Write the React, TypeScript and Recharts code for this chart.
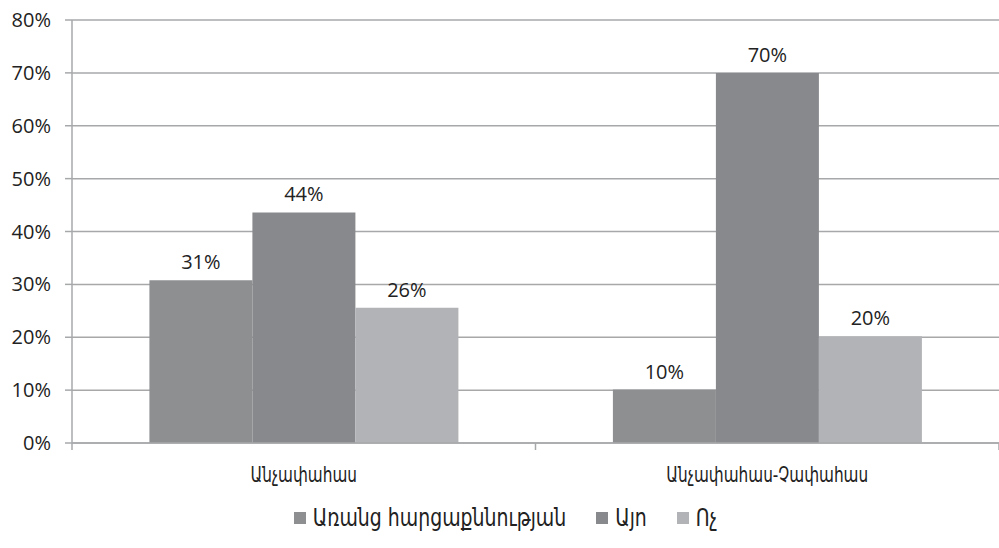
import React from "react";
import { BarChart, Bar, XAxis, YAxis, CartesianGrid, Legend, LabelList } from "recharts";

const categories = ["Անչափահաս", "Անչափահաս-Չափահաս"];
const seriesNames = ["Առանց հարցաքննության", "Այո", "Ոչ"];
const noQuestioning = [30.8, 10.1];
const yes = [43.6, 70];
const no = [25.6, 20.2];
const yTicks = [0, 10, 20, 30, 40, 50, 60, 70, 80];
const colors = ["#8e8f91", "#88898c", "#b2b3b6"];
const keys = ["s0", "s1", "s2"];

const data = categories.map((c, i) => ({
  name: c,
  s0: noQuestioning[i],
  s1: yes[i],
  s2: no[i],
}));

const GRID = "#a7a8aa";
const ARM_FONT = "'DejaVu Sans Condensed', 'DejaVu Sans', sans-serif";

const XTick = (props: any) => {
  const { x, y, payload, index } = props;
  const band = 927 / 2;
  return (
    <g>
      <line x1={x + band / 2} x2={x + band / 2} y1={y - 8} y2={y - 1} stroke={GRID} strokeWidth={1.5} />
      {index === 0 && (
        <line x1={x - band / 2} x2={x - band / 2} y1={y - 8} y2={y - 1} stroke={GRID} strokeWidth={1.5} />
      )}
      <text
        x={0}
        y={0}
        transform={`translate(${x}, ${y + 31}) scale(1, 1.2)`}
        textAnchor="middle"
        fill="#222"
        fontFamily={ARM_FONT}
        fontSize={17}
      >
        {payload.value}
      </text>
    </g>
  );
};

const LegendContent = () => (
  <div style={{ display: "flex", justifyContent: "center", alignItems: "center", fontFamily: ARM_FONT, fontSize: 21, color: "#222", marginLeft: 12 }}>
    {seriesNames.map((n, i) => (
      <div key={n} style={{ display: "flex", alignItems: "center", marginLeft: i === 0 ? 0 : 30 }}>
        <span style={{ display: "inline-block", width: 12, height: 12, background: colors[i], marginRight: 7 }} />
        <span style={{ display: "inline-block", transform: "scaleY(1.15)" }}>{n}</span>
      </div>
    ))}
  </div>
);

export default function App() {
  return (
    <div style={{ position: "fixed", left: 0, top: 0, width: 999, height: 548, background: "#fff" }}>
      <BarChart
        width={999}
        height={548}
        data={data}
        margin={{ top: 20, right: 0, left: 0, bottom: 0 }}
        barCategoryGap="16.7%"
        barGap={0}
      >
        <CartesianGrid vertical={false} stroke={GRID} strokeWidth={1.5} />
        <XAxis
          dataKey="name"
          height={57}
          axisLine={{ stroke: GRID, strokeWidth: 1.5 }}
          tickLine={false}
          tick={<XTick />}
          interval={0}
        />
        <YAxis
          width={72}
          domain={[0, 80]}
          ticks={yTicks}
          tickFormatter={(v: number) => `${v}%`}
          axisLine={{ stroke: GRID, strokeWidth: 1.5 }}
          tickLine={{ stroke: GRID, strokeWidth: 1.5 }}
          tickSize={7}
          tickMargin={14}
          tick={{ fill: "#222", fontFamily: "Open Sans", fontSize: 20 }}
        />
        <Legend
          verticalAlign="bottom"
          height={48}
          content={<LegendContent />}
          wrapperStyle={{ top: 506, bottom: "auto", left: 0, width: 999 }}
        />
        {keys.map((k, i) => (
          <Bar key={k} dataKey={k} name={seriesNames[i]} fill={colors[i]} isAnimationActive={false}>
            <LabelList
              dataKey={k}
              position="top"
              offset={11}
              formatter={(v: number) => `${Math.round(v)}%`}
              style={{ fill: "#222", fontFamily: "Open Sans", fontSize: 20 }}
            />
          </Bar>
        ))}
      </BarChart>
    </div>
  );
}
